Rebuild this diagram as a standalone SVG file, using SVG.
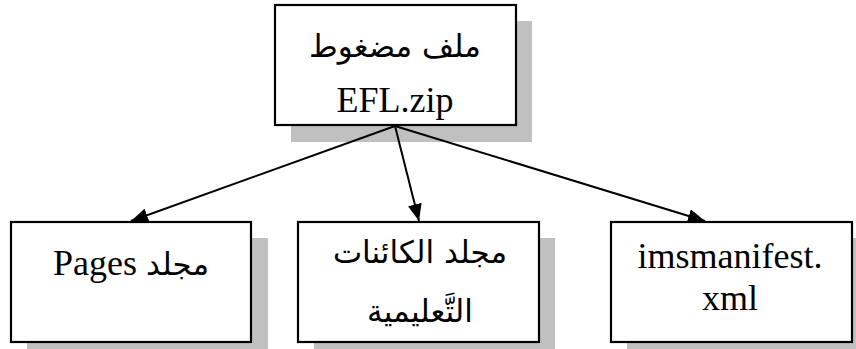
<svg xmlns="http://www.w3.org/2000/svg" width="856" height="349" viewBox="0 0 856 349">
<style>
.box{fill:#ffffff;stroke:#000000;stroke-width:2.2}
.sh{fill:#c0c0c0}
.t{font-family:'Liberation Serif','DejaVu Sans',serif;font-size:36px;fill:#000;text-anchor:middle}
.ar{font-family:'DejaVu Sans','Liberation Serif',sans-serif;font-size:31px;font-weight:normal;fill:#000;text-anchor:middle}
.ai{font-family:'DejaVu Sans',sans-serif;font-size:31px;font-weight:normal}
.c{stroke:#000;stroke-width:2;fill:none}
</style>
<defs>
<marker id="ah" markerUnits="userSpaceOnUse" markerWidth="18" markerHeight="14" refX="17" refY="7" orient="auto">
<path d="M0,0 L17,7 L0,14 z" fill="#000"/>
</marker>
</defs>
<rect width="856" height="349" fill="#ffffff"/>
<g id="node-zip">
<rect class="sh" x="291" y="21" width="241" height="121"/>
<rect class="box" x="275" y="5" width="241" height="120"/>
<text class="ar" x="395" y="57" direction="rtl">ملف مضغوط</text>
<text class="t" x="395" y="112">EFL.zip</text>
</g>
<g id="node-pages">
<rect class="sh" x="27" y="238" width="241" height="121"/>
<rect class="box" x="11" y="222" width="240" height="120"/>
<text class="t" x="131" y="275" direction="rtl"><tspan class="ai">مجلد</tspan> Pages</text>
</g>
<g id="node-objects">
<rect class="sh" x="314" y="238" width="241" height="121"/>
<rect class="box" x="298" y="222" width="241" height="120"/>
<text class="ar" x="420" y="263" direction="rtl">مجلد الكائنات</text>
<text class="ar" x="420" y="322" direction="rtl">التَّعليمية</text>
</g>
<g id="node-manifest">
<rect class="sh" x="627" y="238" width="241" height="121"/>
<rect class="box" x="611" y="222" width="241" height="120"/>
<text class="t" x="730" y="268">imsmanifest.</text>
<text class="t" x="730" y="310">xml</text>
</g>
<g id="connectors">
<line class="c" x1="395" y1="126" x2="131" y2="221" marker-end="url(#ah)"/>
<line class="c" x1="395" y1="126" x2="419" y2="221" marker-end="url(#ah)"/>
<line class="c" x1="395" y1="126" x2="705" y2="221" marker-end="url(#ah)"/>
</g>
</svg>
